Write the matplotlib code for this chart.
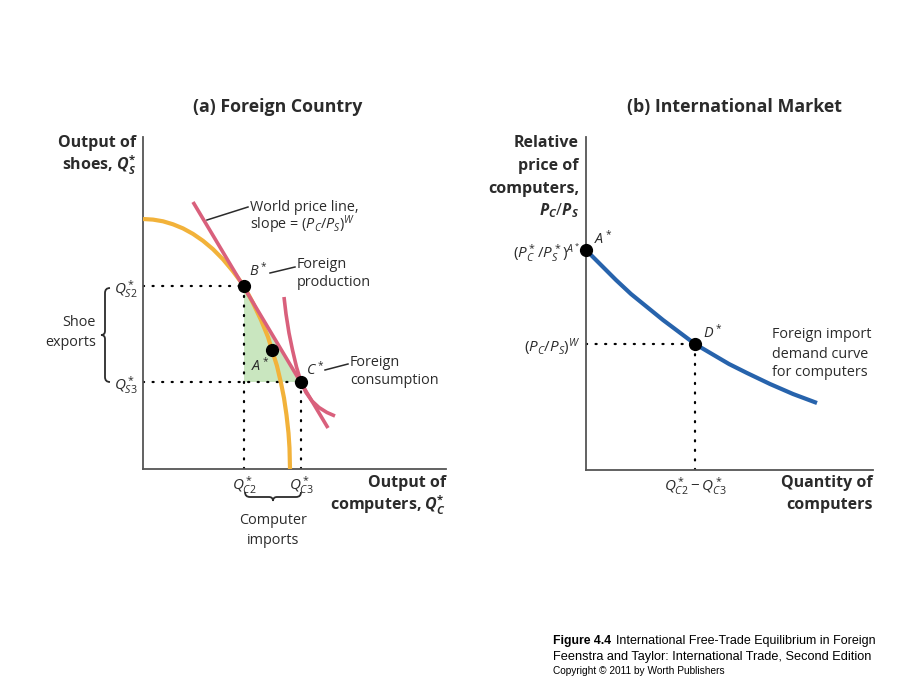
import matplotlib
matplotlib.use("Agg")
import matplotlib.pyplot as plt
from matplotlib.path import Path
from matplotlib.patches import PathPatch, Polygon
from matplotlib.transforms import Affine2D

# ---------------- data ----------------
# Panel (a): Foreign country, production possibilities frontier
ppf_x = [0, 1, 2, 3, 4, 5, 6, 7, 8, 9, 10.1, 11.0, 11.8, 12.5, 12.9, 13.4, 13.8, 14.1, 14.35, 14.55, 14.65, 14.7]
ppf_y = [25.0, 24.94, 24.77, 24.47, 24.06, 23.51, 22.82, 21.98, 20.97, 19.77, 18.3, 16.6, 14.9, 13.2,
         11.9, 10.3, 8.6, 7.1, 5.4, 3.6, 2.1, 0.0]
# world price line (end points)
wpl_x = [5.0, 18.5]
wpl_y = [26.7, 4.1]
# indifference curve through C*
ic_x = [14.1, 14.3, 14.6, 14.95, 15.35, 15.8, 16.3, 16.9, 17.6, 18.4, 19.2]
ic_y = [17.2, 15.5, 13.6, 11.9, 10.2, 8.7, 7.65, 6.8, 6.15, 5.65, 5.3]
# points B*, A*, C*
pt_names_a = ["B*", "A*", "C*"]
pt_x_a = [10.1, 12.9, 15.8]
pt_y_a = [18.3, 11.9, 8.7]
xticks_a = [10.1, 15.8]
xticklabels_a = [r"$Q^*_{C2}$", r"$Q^*_{C3}$"]
yticks_a = [18.3, 8.7]
yticklabels_a = [r"$Q^*_{S2}$", r"$Q^*_{S3}$"]

# Panel (b): International market, foreign import demand curve
dem_x = [0, 1.5, 3.0, 4.5, 6.1, 7.7, 9.3, 10.9, 12.6, 14.3, 16.1, 18.4, 20.7, 23.1]
dem_y = [22.0, 20.5, 19.0, 17.6, 16.3, 15.0, 13.8, 12.6, 11.6, 10.6, 9.7, 8.6, 7.6, 6.7]
pt_names_b = ["A*", "D*"]
pt_x_b = [0.0, 10.9]
pt_y_b = [22.0, 12.6]
xticks_b = [10.9]
xticklabels_b = [r"$Q^*_{C2} - Q^*_{C3}$"]
yticks_b = [22.0, 12.6]
yticklabels_b = [r"$(P^*_C/P^*_S)^{A^*}$", r"$(P_C/P_S)^W$"]

# ---------------- style ----------------
W, H = 920, 690
FONT = "Open Sans"
plt.rcParams["font.family"] = [FONT, "DejaVu Sans"]
plt.rcParams["mathtext.fontset"] = "custom"
plt.rcParams["mathtext.rm"] = FONT
plt.rcParams["mathtext.it"] = FONT + ":italic"
plt.rcParams["mathtext.bf"] = FONT + ":bold"
HAS_BFIT = "mathtext.bfit" in plt.rcParams
if HAS_BFIT:
    plt.rcParams["mathtext.bfit"] = FONT + ":italic:bold"

YELLOW = "#F2B23A"
PINK = "#D9607C"
GREEN = "#C9E6BF"
BLUE = "#2763AC"
TXT = "#2b2b2b"
AX = "#555555"
FS = 10.4      # regular annotation size
FSB = 11.5     # bold axis titles
FST = 12.8     # panel titles

fig = plt.figure(figsize=(W / 100, H / 100), dpi=100)
fig.patch.set_facecolor("white")

def fx(x):
    return x / W

def fy(y):
    return 1 - y / H

pix = Affine2D().scale(1 / W, -1 / H).translate(0, 1) + fig.transFigure

def ftext(x, y, s, **kw):
    kw.setdefault("color", TXT)
    kw.setdefault("fontsize", FS)
    kw.setdefault("va", "center")
    fig.text(fx(x), fy(y), s, **kw)

def leader(x0, y0, x1, y1):
    fig.add_artist(plt.Line2D([fx(x0), fx(x1)], [fy(y0), fy(y1)], transform=fig.transFigure,
                              color=TXT, lw=1.1))

def brace_v(x, y0, y1, depth=7, hook=5):
    ym = (y0 + y1) / 2
    verts = [(x + hook, y0), (x, y0), (x, y0 + hook),
             (x, ym - 4), (x, ym), (x - depth + 3, ym),
             (x, ym), (x, ym + 4),
             (x, y1 - hook), (x, y1), (x + hook, y1)]
    codes = [Path.MOVETO, Path.CURVE3, Path.CURVE3,
             Path.LINETO, Path.CURVE3, Path.CURVE3,
             Path.CURVE3, Path.CURVE3,
             Path.LINETO, Path.CURVE3, Path.CURVE3]
    fig.add_artist(PathPatch(Path(verts, codes), transform=pix, fill=False, ec=TXT, lw=1.3))

def brace_h(y, x0, x1, depth=7, hook=5):
    xm = (x0 + x1) / 2
    verts = [(x0, y - hook), (x0, y), (x0 + hook, y),
             (xm - 4, y), (xm, y), (xm, y + depth - 3),
             (xm, y), (xm + 4, y),
             (x1 - hook, y), (x1, y), (x1, y - hook)]
    codes = [Path.MOVETO, Path.CURVE3, Path.CURVE3,
             Path.LINETO, Path.CURVE3, Path.CURVE3,
             Path.CURVE3, Path.CURVE3,
             Path.LINETO, Path.CURVE3, Path.CURVE3]
    fig.add_artist(PathPatch(Path(verts, codes), transform=pix, fill=False, ec=TXT, lw=1.3))

def style_axes(ax):
    for s in ["top", "right"]:
        ax.spines[s].set_visible(False)
    for s in ["left", "bottom"]:
        ax.spines[s].set_color(AX)
        ax.spines[s].set_linewidth(1.3)
    ax.tick_params(length=0, labelsize=11, colors=TXT, pad=4)
    ax.set_facecolor("none")

DOT = dict(color="black", lw=1.6, linestyle=(0, (0.5, 3.8)), dash_capstyle="round")

# ---------------- panel (a) ----------------
axA = fig.add_axes([fx(143), fy(469), fx(446) - fx(143), fy(137) - fy(469)])
axA.set_xlim(0, 30.3)
axA.set_ylim(0, 33.2)
style_axes(axA)

bx, ax_, cx = pt_x_a
by, ay, cy = pt_y_a
axA.add_patch(Polygon([(bx, by), (bx, cy), (cx, cy)], closed=True, fc=GREEN, ec="none", zorder=1))
axA.plot([0, bx], [by, by], **DOT, zorder=2)
axA.plot([0, cx], [cy, cy], **DOT, zorder=2)
axA.plot([bx, bx], [0, by], **DOT, zorder=2)
axA.plot([cx, cx], [0, cy], **DOT, zorder=2)
axA.plot(ppf_x, ppf_y, color=YELLOW, lw=3.0, solid_capstyle="butt", solid_joinstyle="round", zorder=3)
axA.plot(wpl_x, wpl_y, color=PINK, lw=2.6, solid_capstyle="butt", zorder=4)
axA.plot(ic_x, ic_y, color=PINK, lw=2.6, solid_capstyle="butt", solid_joinstyle="round", zorder=4)
axA.plot(pt_x_a, pt_y_a, "o", color="black", ms=8.5, zorder=6)
axA.set_xticks(xticks_a)
axA.set_xticklabels(xticklabels_a)
axA.set_yticks(yticks_a)
axA.set_yticklabels(yticklabels_a)

ftext(278, 107, "(a) Foreign Country", fontsize=FST, fontweight="bold", ha="center")
ftext(136, 143, "Output of", fontsize=FSB, fontweight="bold", ha="right")
ftext(136, 165, r"shoes, $\mathbfit{Q}^{\mathbf{*}}_{\mathbfit{S}}$" if HAS_BFIT else r"shoes, $Q^*_S$",
      fontsize=FSB, fontweight="bold", ha="right")
ftext(446, 483, "Output of", fontsize=FSB, fontweight="bold", ha="right")
ftext(446, 505, r"computers, $\mathbfit{Q}^{\mathbf{*}}_{\mathbfit{C}}$" if HAS_BFIT else r"computers, $Q^*_C$",
      fontsize=FSB, fontweight="bold", ha="right")

ftext(250, 207, "World price line,", ha="left")
ftext(250, 225, r"slope = $(P_C/P_S)^W$", ha="left")
leader(207, 220, 248, 207)
ftext(249, 271, r"$B^*$", ha="left")
leader(270, 273, 295, 267)
ftext(297, 264, "Foreign", ha="left")
ftext(297, 282, "production", ha="left")
ftext(251, 366, r"$A^*$", ha="left")
ftext(306, 370, r"$C^*$", ha="left")
leader(325, 370, 348, 364)
ftext(350, 362, "Foreign", ha="left")
ftext(350, 381, "consumption", ha="left")

brace_v(105, 288, 382)
ftext(96, 323, "Shoe", ha="right")
ftext(96, 342, "exports", ha="right")
brace_h(497, 245, 301)
ftext(273, 521, "Computer", ha="center")
ftext(273, 540, "imports", ha="center")

# ---------------- panel (b) ----------------
axB = fig.add_axes([fx(586), fy(470), fx(873) - fx(586), fy(137) - fy(470)])
axB.set_xlim(0, 28.7)
axB.set_ylim(0, 33.3)
style_axes(axB)
dx, dy = pt_x_b[1], pt_y_b[1]
axB.plot([0, dx], [dy, dy], **DOT, zorder=2)
axB.plot([dx, dx], [0, dy], **DOT, zorder=2)
axB.plot(dem_x, dem_y, color=BLUE, lw=3.0, solid_capstyle="butt", solid_joinstyle="round", zorder=3)
axB.plot(pt_x_b, pt_y_b, "o", color="black", ms=8.5, zorder=6, clip_on=False)
axB.set_xticks(xticks_b)
axB.set_xticklabels(xticklabels_b)
axB.set_yticks(yticks_b)
axB.set_yticklabels(yticklabels_b)

ftext(735, 107, "(b) International Market", fontsize=FST, fontweight="bold", ha="center")
for i, s in enumerate(["Relative", "price of", "computers,"]):
    ftext(579, 143 + i * 23, s, fontsize=FSB, fontweight="bold", ha="right")
ftext(579, 211, r"$\mathbfit{P}_{\mathbfit{C}}/\mathbfit{P}_{\mathbfit{S}}$" if HAS_BFIT else r"$P_C/P_S$",
      fontsize=FSB, fontweight="bold", ha="right")
ftext(873, 483, "Quantity of", fontsize=FSB, fontweight="bold", ha="right")
ftext(873, 505, "computers", fontsize=FSB, fontweight="bold", ha="right")
ftext(594, 239, r"$A^*$", ha="left")
ftext(703, 333, r"$D^*$", ha="left")
ftext(772, 335, "Foreign import", ha="left")
ftext(772, 354, "demand curve", ha="left")
ftext(772, 373, "for computers", ha="left")

# ---------------- footer ----------------
FF = ["Liberation Sans", "DejaVu Sans"]
ftext(553, 641, "Figure 4.4", fontsize=8.8, fontweight="bold", family=FF, ha="left", color="black")
ftext(616, 641, "International Free-Trade Equilibrium in Foreign", fontsize=9.0, family=FF, ha="left", color="black")
ftext(553, 657, "Feenstra and Taylor: International Trade, Second Edition", fontsize=9.2, family=FF, ha="left", color="black")
ftext(553, 671, "Copyright \u00a9 2011 by Worth Publishers", fontsize=7.3, family=FF, ha="left", color="black")

fig.savefig("out.png", dpi=100)
